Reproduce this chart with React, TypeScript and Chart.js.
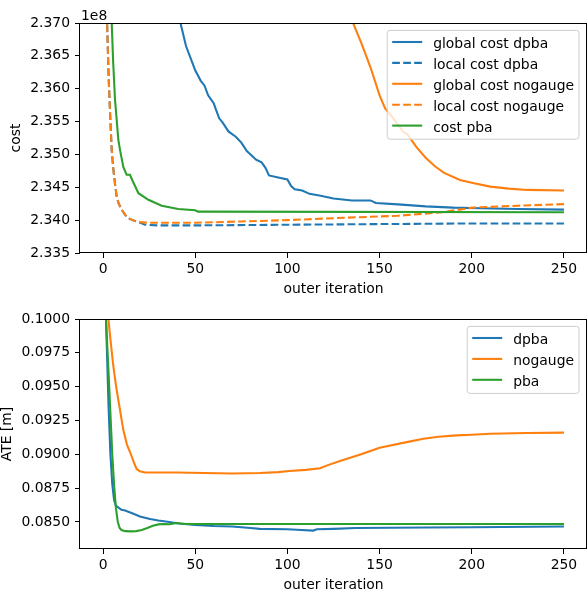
import React, { useEffect, useRef } from 'react';
import { Chart, registerables } from 'chart.js';

Chart.register(...registerables);

// ---------- Data: cost (units of 1e8) ----------
const COST_OFFSET_TEXT = '1e8';

const globalDpbaIter = [0, 30, 40, 42, 45, 50, 53, 55, 57, 60, 61, 63, 65, 68, 72, 75, 78, 80, 83, 86, 88, 90, 95, 100, 102, 104, 108, 112, 118, 125, 135, 145, 148, 160, 175, 190, 205, 225, 250];
const globalDpbaCost = [2.45, 2.385, 2.3725, 2.370, 2.3665, 2.3628, 2.3612, 2.3605, 2.3590, 2.3578, 2.3570, 2.3555, 2.3548, 2.3535, 2.3527, 2.3518, 2.3505, 2.3500, 2.3492, 2.3488, 2.3480, 2.3468, 2.3465, 2.3462, 2.3452, 2.3447, 2.3445, 2.3440, 2.3437, 2.3433, 2.3430, 2.3430, 2.3426, 2.3424, 2.3421, 2.3419, 2.3418, 2.3417, 2.3416];

const localDpbaIter = [0, 2, 3, 4, 4.7, 5.5, 6.5, 7.4, 8.5, 10.1, 12, 13.7, 16, 19.2, 22.8, 30, 50, 100, 150, 200, 250];
const localDpbaCost = [2.42, 2.372, 2.3620, 2.3550, 2.3507, 2.3480, 2.3455, 2.3436, 2.3425, 2.3416, 2.3408, 2.3403, 2.3400, 2.3397, 2.3393, 2.3392, 2.3392, 2.3393, 2.3394, 2.3395, 2.3395];

const globalNogaugeIter = [0, 120, 130, 135.6, 140, 145, 150, 153, 156, 160, 163, 165, 170, 175, 180, 185, 193.6, 200, 210, 220, 230, 250];
const globalNogaugeCost = [2.70, 2.395, 2.378, 2.370, 2.3670, 2.3633, 2.3590, 2.3570, 2.3560, 2.3545, 2.3534, 2.3531, 2.3511, 2.3495, 2.3482, 2.3472, 2.3461, 2.3457, 2.3451, 2.3448, 2.3446, 2.3445];

const localNogaugeIter = [0, 2, 3, 4, 4.7, 5.5, 6.5, 7.4, 8.5, 10.1, 12, 13.7, 16, 19.2, 25, 50, 75, 100, 125, 160, 184, 200, 225, 250];
const localNogaugeCost = [2.42, 2.372, 2.3620, 2.3550, 2.3507, 2.3480, 2.3455, 2.3436, 2.3425, 2.3416, 2.3408, 2.3403, 2.3400, 2.3397, 2.3396, 2.3396, 2.3398, 2.3400, 2.3403, 2.34067, 2.3412, 2.3419, 2.3422, 2.34244];

const pbaCostIter = [0, 3, 4.7, 5.5, 6.5, 8.3, 9.2, 11, 12.8, 14.6, 16, 19.2, 24.6, 31.8, 40.8, 50, 51.5, 250];
const pbaCost = [2.45, 2.39, 2.370, 2.364, 2.3583, 2.3522, 2.3507, 2.3481, 2.3469, 2.3469, 2.3460, 2.3441, 2.3431, 2.3422, 2.3417, 2.3415, 2.3413, 2.3412];

// ---------- Data: ATE [m] ----------
const ateDpbaIter = [0, 1.6, 3, 4, 5, 6, 7, 8, 10, 12, 16.5, 20, 25.5, 30, 35, 40, 50, 60, 70, 80, 85, 100, 105, 114, 116, 125, 137, 175, 200, 250];
const ateDpba = [0.125, 0.1000, 0.0935, 0.0900, 0.0878, 0.0866, 0.0862, 0.0861, 0.0859, 0.08585, 0.0856, 0.0854, 0.08522, 0.0851, 0.08502, 0.0849, 0.08478, 0.0847, 0.08466, 0.08455, 0.08449, 0.08446, 0.08442, 0.08436, 0.08446, 0.08449, 0.08455, 0.08459, 0.08461, 0.08466];

const ateNogaugeIter = [0, 2.9, 4, 5.6, 7, 8.3, 11, 13, 14.7, 17, 18.3, 20, 22.8, 40, 55, 70, 85, 95, 101, 110, 117.7, 122, 128.5, 140, 150, 164.7, 173.8, 182, 191.8, 200, 210, 230, 250];
const ateNogauge = [0.13, 0.1000, 0.0985, 0.09649, 0.0951, 0.0940, 0.0918, 0.0907, 0.09015, 0.0893, 0.0889, 0.08875, 0.08865, 0.08865, 0.08862, 0.08858, 0.08862, 0.08868, 0.08877, 0.08885, 0.08897, 0.0892, 0.08951, 0.0900, 0.09049, 0.0909, 0.09115, 0.0913, 0.0914, 0.09145, 0.09152, 0.09157, 0.0916];

const atePbaIter = [0, 1.6, 3, 4, 5, 6, 7, 8, 9, 10, 12, 15, 18, 21, 24, 27, 30, 33, 36, 40, 42, 45, 250];
const atePba = [0.125, 0.1000, 0.0960, 0.0930, 0.0900, 0.0877, 0.0860, 0.0850, 0.08455, 0.0844, 0.08432, 0.0843, 0.08432, 0.0844, 0.08455, 0.08472, 0.08482, 0.08485, 0.08483, 0.08492, 0.08488, 0.08485, 0.08485];

// ---------- Axis settings ----------
const X_MIN = -12.5;
const X_MAX = 262.5;
const X_STEP = 50;
const COST_MIN = 2.335;
const COST_MAX = 2.370;
const COST_STEP = 0.005;
const ATE_MIN = 0.083;
const ATE_MAX = 0.1;
const ATE_STEP = 0.0025;

const BLUE = '#1f77b4';
const ORANGE = '#ff7f0e';
const GREEN = '#2ca02c';
const FONT_FAMILY = "'DejaVu Sans', sans-serif";
const FONT_SIZE = 13.9;
const DASH = [7.7, 3.3];

const pts = (xs: number[], ys: number[]) => xs.map((x, i) => ({ x, y: ys[i] }));

// later datasets drawn on top (like matplotlib)
const withOrder = (list: any[]) => list.map((d, i) => ({ ...d, order: list.length - i, clip: 0 }));

const frameAndLegend = {
  id: 'frameAndLegend',
  afterDatasetsDraw(chart: any, _args: any, opts: any) {
    const ctx = chart.ctx;
    const { left, right, top, bottom } = chart.chartArea;
    ctx.save();
    ctx.strokeStyle = '#000';
    ctx.lineWidth = 1;
    ctx.strokeRect(Math.round(left) - 0.5, Math.round(top) + 0.5, Math.round(right) - Math.round(left), Math.round(bottom) - Math.round(top) - 1);
    if (opts.offsetText) {
      ctx.font = `${FONT_SIZE}px ${FONT_FAMILY}`;
      ctx.fillStyle = '#000';
      ctx.textAlign = 'left';
      ctx.textBaseline = 'alphabetic';
      ctx.fillText(opts.offsetText, left + 1, top - 3);
    }
    const ds = chart.data.datasets;
    ctx.font = `${FONT_SIZE}px ${FONT_FAMILY}`;
    let maxW = 0;
    ds.forEach((d: any) => { maxW = Math.max(maxW, ctx.measureText(d.label).width); });
    const padL = 5, handleLen = 30, gap = 11, padR = 5;
    const rowStep = 20.9, firstRow = 11.6, lastPad = 13.6;
    const w = padL + handleLen + gap + maxW + padR;
    const h = firstRow + (ds.length - 1) * rowStep + lastPad;
    const bx = right - 8 - w;
    const by = top + 7.4;
    const r = 2.8;
    ctx.beginPath();
    ctx.moveTo(bx + r, by);
    ctx.lineTo(bx + w - r, by);
    ctx.arcTo(bx + w, by, bx + w, by + r, r);
    ctx.lineTo(bx + w, by + h - r);
    ctx.arcTo(bx + w, by + h, bx + w - r, by + h, r);
    ctx.lineTo(bx + r, by + h);
    ctx.arcTo(bx, by + h, bx, by + h - r, r);
    ctx.lineTo(bx, by + r);
    ctx.arcTo(bx, by, bx + r, by, r);
    ctx.closePath();
    ctx.fillStyle = 'rgba(255,255,255,0.8)';
    ctx.fill();
    ctx.strokeStyle = '#cccccc';
    ctx.lineWidth = 1;
    ctx.stroke();
    ds.forEach((d: any, i: number) => {
      const ry = by + firstRow + i * rowStep;
      ctx.beginPath();
      ctx.setLineDash(d.borderDash || []);
      ctx.strokeStyle = d.borderColor;
      ctx.lineWidth = 2.08;
      ctx.moveTo(bx + padL, ry);
      ctx.lineTo(bx + padL + handleLen, ry);
      ctx.stroke();
      ctx.setLineDash([]);
      ctx.fillStyle = '#000';
      ctx.textAlign = 'left';
      ctx.textBaseline = 'alphabetic';
      ctx.fillText(d.label, bx + padL + handleLen + gap, ry + 6);
    });
    ctx.restore();
  },
};

function makeOptions(yMin: number, yMax: number, yStep: number, decimals: number, yTitle: string, yTitlePad: number, offsetText: string | null) {
  const font = { family: FONT_FAMILY, size: FONT_SIZE };
  return {
    responsive: false,
    animation: false,
    events: [],
    layout: { padding: { top: 23, right: 1, left: 0, bottom: 0 } },
    elements: { point: { radius: 0 }, line: { borderWidth: 2.08, tension: 0 } },
    plugins: {
      legend: { display: false },
      tooltip: { enabled: false },
      frameAndLegend: { offsetText },
    },
    scales: {
      x: {
        type: 'linear',
        min: X_MIN,
        max: X_MAX,
        afterFit: (s: any) => { s.height = 43; },
        ticks: { stepSize: X_STEP, includeBounds: false, autoSkip: false, maxRotation: 0, color: '#000', font, padding: 3 },
        grid: { drawOnChartArea: false, drawTicks: true, tickLength: 5, color: '#000', lineWidth: 1 },
        border: { display: false },
        title: { display: true, text: 'outer iteration', color: '#000', font: { ...font, lineHeight: 1 }, padding: 0 },
      },
      y: {
        type: 'linear',
        min: yMin,
        max: yMax,
        afterFit: (s: any) => { s.width = 80; },
        ticks: {
          stepSize: yStep, includeBounds: false, autoSkip: false, color: '#000', font, padding: 5,
          callback: (v: any) => Number(v).toFixed(decimals),
        },
        grid: { drawOnChartArea: false, drawTicks: true, tickLength: 5, color: '#000', lineWidth: 1 },
        border: { display: false },
        title: { display: true, text: yTitle, color: '#000', font: { ...font, lineHeight: 1 }, padding: { top: yTitlePad, bottom: 0 } },
      },
    },
  };
}

export default function App() {
  const topRef = useRef<HTMLCanvasElement>(null);
  const botRef = useRef<HTMLCanvasElement>(null);

  useEffect(() => {
    const top = new Chart(topRef.current as HTMLCanvasElement, {
      type: 'line',
      data: {
        datasets: withOrder([
          { label: 'global cost dpba', data: pts(globalDpbaIter, globalDpbaCost), borderColor: BLUE },
          { label: 'local cost dpba', data: pts(localDpbaIter, localDpbaCost), borderColor: BLUE, borderDash: DASH },
          { label: 'global cost nogauge', data: pts(globalNogaugeIter, globalNogaugeCost), borderColor: ORANGE },
          { label: 'local cost nogauge', data: pts(localNogaugeIter, localNogaugeCost), borderColor: ORANGE, borderDash: DASH },
          { label: 'cost pba', data: pts(pbaCostIter, pbaCost), borderColor: GREEN },
        ]),
      },
      options: makeOptions(COST_MIN, COST_MAX, COST_STEP, 3, 'cost', 9, COST_OFFSET_TEXT) as any,
      plugins: [frameAndLegend],
    });
    const bot = new Chart(botRef.current as HTMLCanvasElement, {
      type: 'line',
      data: {
        datasets: withOrder([
          { label: 'dpba', data: pts(ateDpbaIter, ateDpba), borderColor: BLUE },
          { label: 'nogauge', data: pts(ateNogaugeIter, ateNogauge), borderColor: ORANGE },
          { label: 'pba', data: pts(atePbaIter, atePba), borderColor: GREEN },
        ]),
      },
      options: makeOptions(ATE_MIN, ATE_MAX, ATE_STEP, 4, 'ATE [m]', 0.5, null) as any,
      plugins: [frameAndLegend],
    });
    return () => { top.destroy(); bot.destroy(); };
  }, []);

  return (
    <div style={{ position: 'absolute', left: 0, top: 0, width: 588, height: 592, background: '#fff' }}>
      <canvas ref={topRef} width={588} height={296} style={{ display: 'block', width: 588, height: 296 }} />
      <canvas ref={botRef} width={588} height={296} style={{ display: 'block', width: 588, height: 296 }} />
    </div>
  );
}
